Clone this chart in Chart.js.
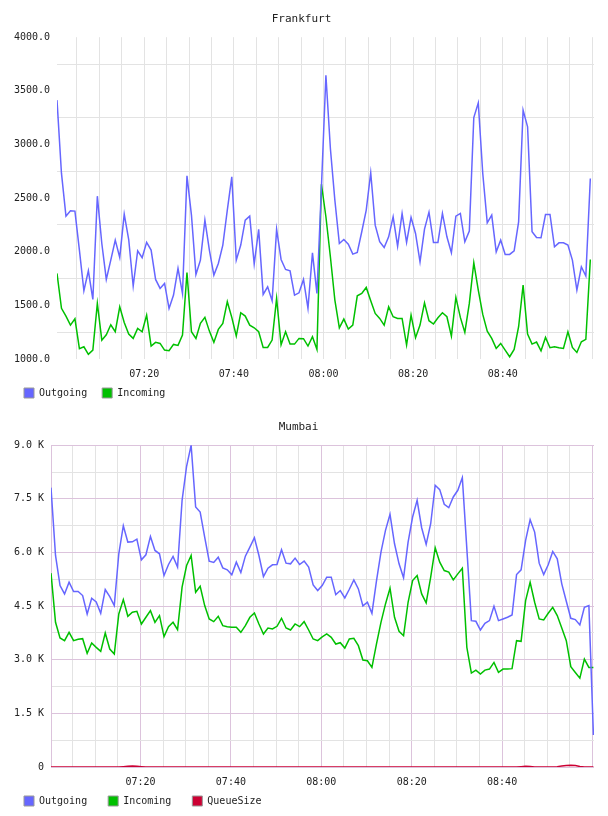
<!DOCTYPE html>
<html>
<head>
<meta charset="utf-8">
<title>Frankfurt / Mumbai</title>
<script src="https://cdn.jsdelivr.net/npm/chart.js@4.4.0/dist/chart.umd.min.js"></script>
<style>
  body { margin: 0; background: #fff; }
  #wrap { position: relative; width: 608px; height: 816px; overflow: hidden; }
  canvas { position: absolute; left: 0; }
  #frankfurt { top: 0; }
  #mumbai { top: 408px; }
</style>
</head>
<body>
<div id="wrap">
  <canvas id="frankfurt" width="608" height="432"></canvas>
  <canvas id="mumbai" width="608" height="432"></canvas>
</div>
<script>
// time axis: minutes after 07:00, one sample per minute
var timeTickMinutes = [20, 40, 60, 80, 100];
var timeTickLabels = ['07:20', '07:40', '08:00', '08:20', '08:40'];

// Frankfurt (first sample ~07:00:32)
var frankfurtStart = 0.54;
var frankfurtOutgoing = [
  3413, 2730, 2332, 2382, 2379, 2015, 1636, 1822, 1555, 2518,
  2077, 1742, 1922, 2108, 1947, 2350, 2114, 1680, 2009, 1944,
  2087, 2015, 1742, 1658, 1705, 1472, 1596, 1844, 1611, 2708,
  2341, 1788, 1922, 2295, 2015, 1782, 1891, 2062, 2388, 2698,
  1922, 2062, 2295, 2332, 1885, 2208, 1602, 1673, 1543, 2208,
  1928, 1835, 1822, 1596, 1617, 1742, 1472, 1990, 1611, 2600,
  3646, 2962, 2480, 2077, 2114, 2071, 1978, 1993, 2186, 2388,
  2736, 2248, 2093, 2040, 2139, 2326, 2052, 2357, 2087, 2320,
  2170, 1906, 2211, 2369, 2087, 2087, 2357, 2139, 1990, 2332,
  2357, 2093, 2192, 3251, 3388, 2729, 2270, 2341, 1999, 2108,
  1975, 1975, 2009, 2279, 3320, 3164, 2186, 2133, 2130, 2347,
  2347, 2046, 2083, 2083, 2062, 1922, 1642, 1860, 1773, 2683
];
var frankfurtIncoming = [
  1798, 1472, 1400, 1316, 1375, 1096, 1114, 1043, 1083, 1518,
  1176, 1226, 1319, 1254, 1487, 1341, 1232, 1192, 1285, 1254,
  1409, 1121, 1155, 1145, 1083, 1077, 1136, 1127, 1223, 1807,
  1254, 1192, 1332, 1388, 1260, 1155, 1276, 1332, 1534, 1388,
  1214, 1431, 1400, 1316, 1291, 1254, 1108, 1108, 1176, 1565,
  1133, 1254, 1139, 1139, 1192, 1189, 1121, 1208, 1089, 2630,
  2326, 1953, 1549, 1291, 1372, 1279, 1316, 1589, 1611, 1667,
  1543, 1425, 1378, 1316, 1487, 1394, 1378, 1378, 1130, 1409,
  1198, 1316, 1524, 1357, 1326, 1385, 1431, 1394, 1214, 1574,
  1388, 1248, 1518, 1897, 1642, 1416, 1260, 1192, 1099, 1145,
  1083, 1021, 1089, 1301, 1689, 1232, 1139, 1158, 1077, 1201,
  1105, 1114, 1105, 1099, 1254, 1108, 1061, 1161, 1183, 1928
];

// Mumbai (first sample ~07:00:12)
var mumbaiStart = 0.2;
var mumbaiOutgoing = [
  7813, 5916, 5075, 4841, 5168, 4907, 4907, 4795, 4280, 4720,
  4617, 4299, 4963, 4766, 4514, 5963, 6748, 6290, 6299, 6374,
  5795, 5935, 6449, 6056, 5963, 5355, 5664, 5888, 5589, 7458,
  8411, 9000, 7271, 7131, 6430, 5757, 5720, 5869, 5570, 5514,
  5374, 5729, 5439, 5897, 6150, 6411, 5916, 5327, 5561, 5654,
  5664, 6075, 5701, 5682, 5841, 5664, 5757, 5589, 5094, 4935,
  5075, 5309, 5309, 4822, 4935, 4729, 4972, 5234, 4981, 4505,
  4608, 4299, 5196, 6009, 6617, 7066, 6243, 5682, 5290, 6290,
  6991, 7458, 6692, 6224, 6804, 7879, 7757, 7346, 7252, 7552,
  7739, 8094, 6100, 4094, 4075, 3832, 4019, 4094, 4495, 4094,
  4140, 4187, 4250, 5383, 5514, 6337, 6916, 6570, 5701, 5383,
  5654, 6028, 5822, 5122, 4636, 4159, 4122, 3972, 4467, 4514, 897
];
var mumbaiIncoming = [
  5421, 4047, 3608, 3533, 3766, 3533, 3570, 3589, 3178, 3467,
  3346, 3234, 3748, 3299, 3159, 4280, 4682, 4215, 4327, 4355,
  4000, 4187, 4374, 4047, 4234, 3645, 3925, 4047, 3841, 5028,
  5636, 5916, 4888, 5056, 4514, 4140, 4065, 4215, 3953, 3925,
  3907, 3907, 3766, 3953, 4187, 4308, 4000, 3720, 3888, 3860,
  3935, 4159, 3888, 3832, 4000, 3925, 4065, 3832, 3580, 3533,
  3640, 3720, 3626, 3439, 3477, 3327, 3580, 3598, 3393, 2991,
  2972, 2785, 3439, 4047, 4561, 5000, 4187, 3794, 3673, 4607,
  5215, 5355, 4841, 4589, 5309, 6131, 5729, 5495, 5449, 5234,
  5402, 5561, 3346, 2626, 2710, 2598, 2710, 2738, 2925, 2645,
  2738, 2738, 2750, 3533, 3514, 4654, 5168, 4607, 4140, 4112,
  4299, 4467, 4234, 3888, 3533, 2804, 2645, 2486, 3019, 2785, 2785
];
var mumbaiQueueSize = [
  0, 0, 0, 0, 0, 0, 0, 0, 0, 0,
  0, 0, 0, 0, 0, 0, 8, 18, 25, 18,
  8, 0, 0, 0, 0, 0, 0, 0, 0, 0,
  0, 0, 0, 0, 0, 0, 0, 0, 0, 0,
  0, 0, 0, 0, 0, 0, 0, 0, 0, 0,
  0, 0, 0, 0, 0, 0, 0, 0, 0, 0,
  0, 0, 0, 0, 0, 0, 0, 0, 0, 0,
  0, 0, 0, 0, 0, 0, 0, 0, 0, 0,
  0, 0, 0, 0, 0, 0, 0, 0, 0, 0,
  0, 0, 0, 0, 0, 0, 0, 0, 0, 0,
  0, 0, 0, 0, 10, 20, 12, 0, 0, 0,
  0, 0, 10, 30, 45, 50, 40, 15, 0, 0, 0
];

var FONT = "'DejaVu Sans Mono', monospace";
var TEXT = '#222222';
var GRID = '#e3e3e3';
var PINK = '#dcc3dc';
var NONE = 'rgba(0,0,0,0)';

function toPoints(values, start) {
    return values.map(function (v, i) {
        return { x: start + i, y: v };
    });
}

function lineSet(label, color, values, start) {
    return {
        label: label,
        data: toPoints(values, start),
        borderColor: color,
        backgroundColor: color,
        borderWidth: 1.5,
        pointRadius: 0,
        pointHoverRadius: 0,
        tension: 0,
        fill: false
    };
}

function ticksFrom(min, max, step) {
    var t = [];
    for (var v = min; v <= max + 1e-9; v += step) t.push({ value: v });
    return t;
}

function timeLabel(value) {
    var k = timeTickMinutes.indexOf(Math.round(value));
    return k >= 0 && Math.abs(value - Math.round(value)) < 1e-6 ? timeTickLabels[k] : '';
}

// the legend sits just under the time labels; pin its row to y = 388
var legendRow = {
    id: 'legendRow',
    afterLayout: function (chart) {
        var lg = chart.legend;
        var h = lg.bottom - lg.top;
        lg.top = 388 - lg.options.labels.padding;
        lg.bottom = lg.top + h;
    }
};

function makeChart(id, opts) {
    return new Chart(document.getElementById(id).getContext('2d'), {
        type: 'line',
        data: { datasets: opts.datasets },
        plugins: [legendRow],
        options: {
            responsive: false,
            animation: false,
            devicePixelRatio: 1,
            layout: { padding: { left: opts.padLeft, right: 14, top: 0, bottom: opts.padBottom } },
            plugins: {
                tooltip: { enabled: false },
                title: {
                    display: true,
                    text: opts.title,
                    color: TEXT,
                    font: { family: FONT, size: 11, weight: 'normal' },
                    padding: { top: 13, bottom: 11 }
                },
                legend: {
                    display: true,
                    position: 'bottom',
                    align: 'start',
                    labels: {
                        boxWidth: 10,
                        boxHeight: 10,
                        padding: opts.legendPad,
                        color: TEXT,
                        font: { family: FONT, size: 10 },
                        generateLabels: function (chart) {
                            return chart.data.datasets.map(function (ds, i) {
                                return {
                                    text: ds.label,
                                    fillStyle: ds.borderColor,
                                    strokeStyle: '#999999',
                                    lineWidth: 1,
                                    fontColor: TEXT,
                                    hidden: false,
                                    datasetIndex: i
                                };
                            });
                        }
                    }
                }
            },
            scales: {
                x: {
                    type: 'linear',
                    min: opts.xMin,
                    max: opts.xMax,
                    afterBuildTicks: function (scale) {
                        scale.ticks = ticksFrom(5, 120, 5);
                    },
                    grid: {
                        drawTicks: false,
                        color: opts.xGrid
                    },
                    border: { display: false },
                    ticks: {
                        autoSkip: false,
                        maxRotation: 0,
                        padding: 9,
                        color: TEXT,
                        font: { family: FONT, size: 10 },
                        callback: function (value) { return timeLabel(value); }
                    }
                },
                y: {
                    type: 'linear',
                    min: opts.yMin,
                    max: opts.yMax,
                    afterBuildTicks: function (scale) {
                        scale.ticks = ticksFrom(opts.yMin, opts.yMax, opts.yStep);
                    },
                    afterFit: function (scale) {
                        scale.width = 48;
                    },
                    grid: {
                        drawTicks: false,
                        color: opts.yGrid
                    },
                    border: opts.yBorder,
                    ticks: {
                        autoSkip: false,
                        padding: 7,
                        color: TEXT,
                        font: { family: FONT, size: 10 },
                        callback: opts.yLabel
                    }
                }
            }
        }
    });
}

window.addEventListener('load', function () {
    makeChart('frankfurt', {
        title: 'Frankfurt',
        datasets: [
            lineSet('Outgoing', '#6666ff', frankfurtOutgoing, frankfurtStart),
            lineSet('Incoming', '#00c000', frankfurtIncoming, frankfurtStart)
        ],
        padLeft: 9,
        padBottom: 8,
        legendPad: 15,
        xMin: 0.54,
        xMax: 120.36,
        yMin: 1000,
        yMax: 4000,
        yStep: 250,
        xGrid: GRID,
        // only the in-between lines are drawn
        yGrid: function (ctx) {
            return ctx.tick && ctx.tick.value % 500 === 0 ? NONE : GRID;
        },
        yBorder: { display: false },
        yLabel: function (value) {
            return value % 500 === 0 ? value.toFixed(1) : '';
        }
    });

    makeChart('mumbai', {
        title: 'Mumbai',
        datasets: [
            lineSet('Outgoing', '#6666ff', mumbaiOutgoing, mumbaiStart),
            lineSet('Incoming', '#00c000', mumbaiIncoming, mumbaiStart),
            lineSet('QueueSize', '#cc0033', mumbaiQueueSize, mumbaiStart)
        ],
        padLeft: 3,
        padBottom: 2,
        legendPad: 21,
        xMin: 0.2,
        xMax: 120.33,
        yMin: 0,
        yMax: 9000,
        yStep: 750,
        xGrid: function (ctx) {
            return ctx.tick && ctx.tick.value % 20 === 0 ? PINK : GRID;
        },
        yGrid: function (ctx) {
            return ctx.tick && ctx.tick.value % 1500 === 0 ? PINK : GRID;
        },
        yBorder: { display: true, color: PINK, width: 1 },
        yLabel: function (value) {
            if (value % 1500 !== 0) return '';
            return value === 0 ? '0' : (value / 1000).toFixed(1) + ' K';
        }
    });
});
</script>
</body>
</html>
